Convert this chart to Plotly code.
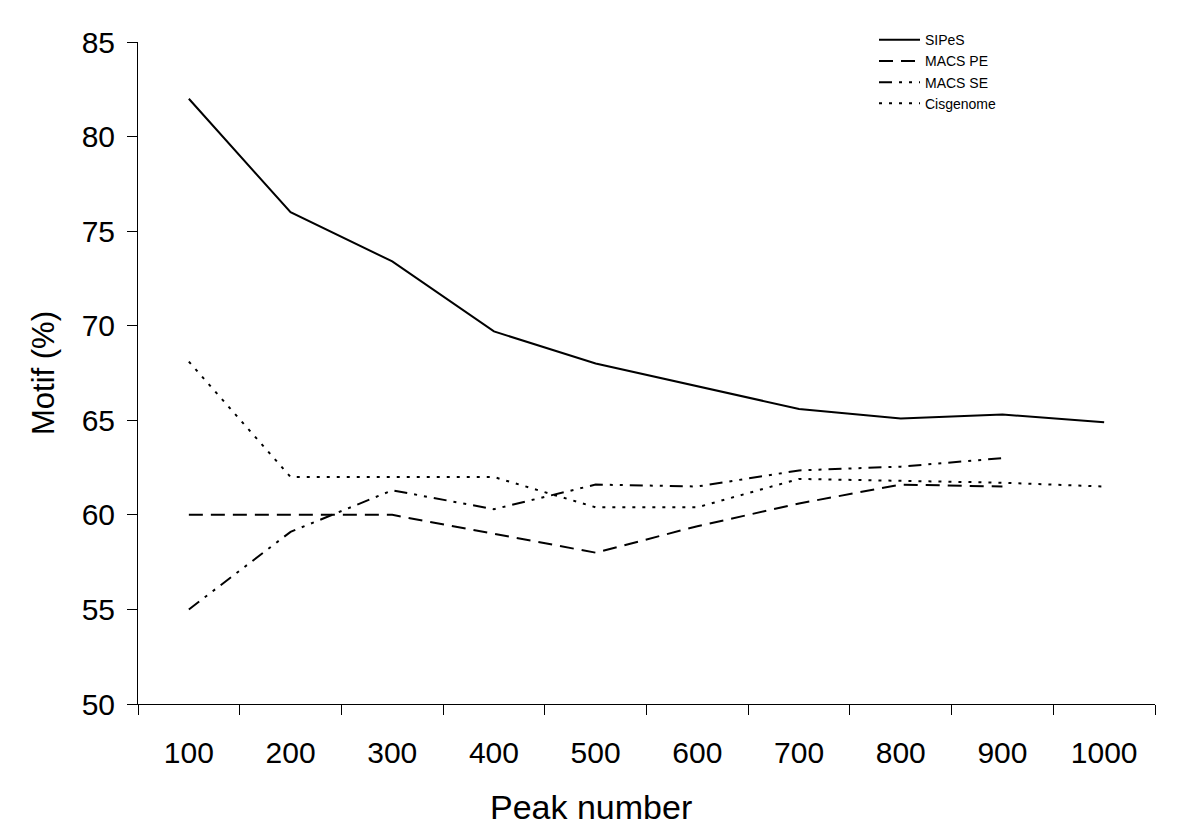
import plotly.graph_objects as go

peak_numbers = ["100", "200", "300", "400", "500", "600", "700", "800", "900", "1000"]
sipes = [82.0, 76.0, 73.4, 69.7, 68.0, 66.8, 65.6, 65.1, 65.3, 64.9]
macs_pe = [60.0, 60.0, 60.0, 59.0, 58.0, 59.4, 60.6, 61.6, 61.5]
macs_se = [55.0, 59.1, 61.3, 60.3, 61.6, 61.5, 62.35, 62.55, 63.0]
cisgenome = [68.1, 62.0, 62.0, 62.0, 60.4, 60.4, 61.9, 61.8, 61.7, 61.5]

series = [
    ("SIPeS", sipes, "solid"),
    ("MACS PE", macs_pe, "14px,8px"),
    ("MACS SE", macs_se, "13px,7px,3px,7px,3px,7px"),
    ("Cisgenome", cisgenome, "3px,7px"),
]

FONT = "Arial, Liberation Sans, sans-serif"

fig = go.Figure()
for name, vals, dash in series:
    fig.add_trace(go.Scatter(
        x=peak_numbers[:len(vals)], y=vals, name=name, mode="lines",
        line=dict(color="black", width=2, dash=dash),
    ))

fig.update_layout(
    width=1200, height=834,
    margin=dict(l=130, r=53, t=34, b=138, autoexpand=False),
    paper_bgcolor="white", plot_bgcolor="white",
    font=dict(family=FONT, color="black"),
    showlegend=True,
    legend=dict(
        x=0.7237, y=1.027, xanchor="left", yanchor="top",
        font=dict(size=14, family=FONT),
        bgcolor="rgba(0,0,0,0)", tracegroupgap=0, itemwidth=41,
    ),
    annotations=[
        dict(text="Peak number", xref="paper", yref="paper", x=0.4454, y=-0.1556,
             xanchor="center", yanchor="middle", showarrow=False,
             font=dict(size=34, family=FONT)),
        dict(text="Motif (%)", xref="paper", yref="paper", x=-0.0934, y=0.5,
             xanchor="center", yanchor="middle", showarrow=False, textangle=-90,
             font=dict(size=31, family=FONT)),
    ],
)
fig.update_xaxes(
    type="category", categoryorder="array", categoryarray=peak_numbers,
    range=[-0.5, 9.5], tickson="boundaries", automargin=False,
    showline=True, linecolor="black", linewidth=1,
    ticks="outside", ticklen=10, tickcolor="black",
    showgrid=False, zeroline=False,
    tickfont=dict(size=30, family=FONT),
    ticklabelstandoff=22,
)
fig.update_yaxes(
    range=[50, 85], tickmode="array", tickvals=[50, 55, 60, 65, 70, 75, 80, 85],
    automargin=False,
    showline=True, linecolor="black", linewidth=1,
    ticks="outside", ticklen=10, tickcolor="black",
    showgrid=False, zeroline=False,
    tickfont=dict(size=30, family=FONT),
    ticklabelstandoff=6,
)

fig.write_html("out.html")
